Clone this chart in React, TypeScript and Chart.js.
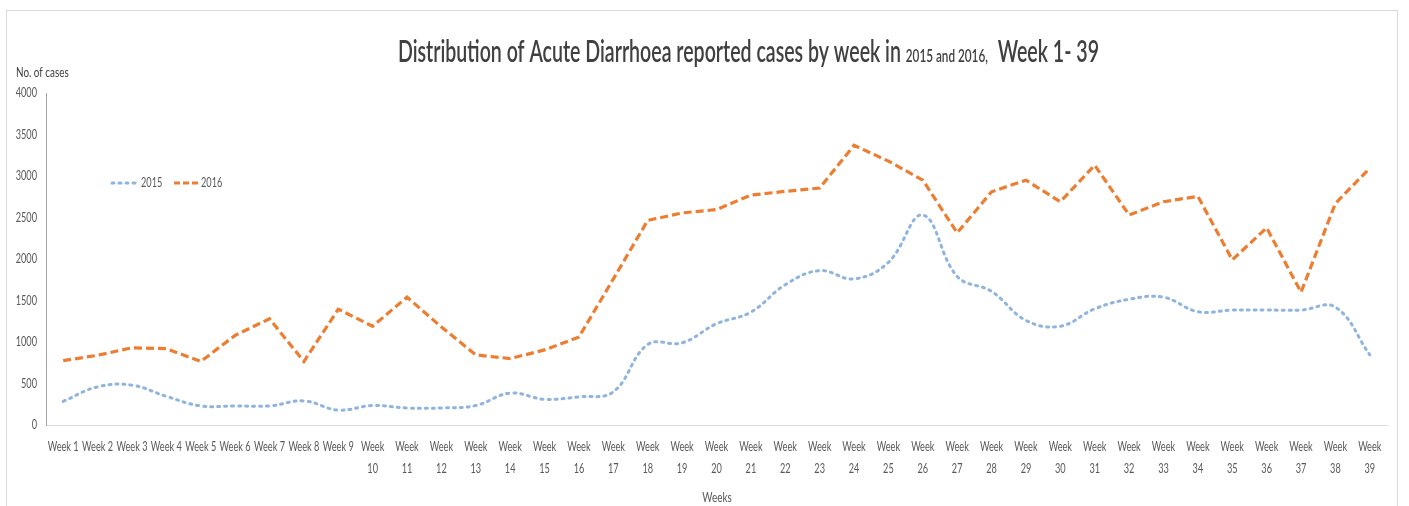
import React, { useEffect, useRef } from "react";
import { Chart, registerables } from "chart.js";

Chart.register(...registerables);

const weeks: string[] = [
  "Week 1", "Week 2", "Week 3", "Week 4", "Week 5", "Week 6", "Week 7", "Week 8", "Week 9",
  "Week 10", "Week 11", "Week 12", "Week 13", "Week 14", "Week 15", "Week 16", "Week 17",
  "Week 18", "Week 19", "Week 20", "Week 21", "Week 22", "Week 23", "Week 24", "Week 25",
  "Week 26", "Week 27", "Week 28", "Week 29", "Week 30", "Week 31", "Week 32", "Week 33",
  "Week 34", "Week 35", "Week 36", "Week 37", "Week 38", "Week 39",
];

const cases2015: number[] = [
  285, 460, 480, 345, 230, 230, 230, 290, 180, 235,
  205, 205, 235, 385, 310, 340, 400, 970, 990, 1220,
  1360, 1690, 1860, 1760, 1960, 2530, 1790, 1610, 1260, 1190,
  1400, 1515, 1540, 1365, 1385, 1385, 1385, 1420, 845,
];

const cases2016: number[] = [
  775, 840, 930, 920, 765, 1080, 1280, 765, 1395, 1190,
  1540, 1180, 845, 800, 905, 1060, 1760, 2465, 2555, 2595,
  2770, 2815, 2855, 3370, 3180, 2950, 2315, 2810, 2950, 2690,
  3130, 2530, 2690, 2755, 1990, 2375, 1600, 2670, 3095,
];

const seriesNames: string[] = ["2015", "2016"];
const yTicks: number[] = [0, 500, 1000, 1500, 2000, 2500, 3000, 3500, 4000];

const FONT = "Lato, 'Open Sans', 'Noto Sans', sans-serif";
const BLUE = "#8FB4DF";
const ORANGE = "#ED7D31";
const TEXT = "#595959";

function drawText(
  ctx: CanvasRenderingContext2D,
  s: string,
  x: number,
  y: number,
  size: number,
  sx: number,
  align: CanvasTextAlign,
  color: string,
  baseline: CanvasTextBaseline = "middle",
  weight: string = "normal"
) {
  ctx.save();
  ctx.font = `${weight} ${size}px ${FONT}`;
  ctx.fillStyle = color;
  ctx.textBaseline = baseline;
  ctx.textAlign = align;
  ctx.translate(x, y);
  ctx.scale(sx, 1);
  ctx.fillText(s, 0, 0);
  ctx.restore();
}

const decorPlugin = {
  id: "decor",
  afterDraw(chart: any) {
    const ctx = chart.ctx as CanvasRenderingContext2D;
    ctx.save();
    ctx.font = `13px ${FONT}`;
    const SX = 31 / ctx.measureText("Week 1").width;

    // Title with mixed sizes
    const segs = [
      { t: "Distribution of Acute Diarrhoea reported cases by week in ", s: 30 },
      { t: "2015 and 2016,", s: 18 },
      { t: "  Week 1- 39", s: 30 },
    ];
    const TW = "600";
    let total = 0;
    for (const sg of segs) {
      ctx.font = `${TW} ${sg.s}px ${FONT}`;
      total += ctx.measureText(sg.t).width;
    }
    const tsx = 701 / total;
    let x = 398;
    for (const sg of segs) {
      ctx.font = `${TW} ${sg.s}px ${FONT}`;
      const w = ctx.measureText(sg.t).width * tsx;
      drawText(ctx, sg.t, x, 62, sg.s, tsx, "left", "#404040", "alphabetic", TW);
      x += w;
    }

    // Y axis title
    drawText(ctx, "No. of cases", 16, 72, 14, SX, "left", "#404040");

    // X axis tick labels
    const xs = chart.scales.x;
    weeks.forEach((w, i) => {
      const px = xs.getPixelForTick(i);
      if (i < 9) {
        drawText(ctx, w, px, 447, 13, SX, "center", TEXT);
      } else {
        const parts = w.split(" ");
        drawText(ctx, parts[0], px, 447, 13, SX, "center", TEXT);
        drawText(ctx, parts[1], px, 469, 13, SX, "center", TEXT);
      }
    });

    // Y axis tick labels
    const ys = chart.scales.y;
    yTicks.forEach((v) => {
      drawText(ctx, String(v), 37, ys.getPixelForValue(v), 13, SX, "right", TEXT);
    });

    // X axis title
    drawText(ctx, "Weeks", 717, 497, 14, SX, "center", TEXT);

    // Legend
    const items = [
      { name: seriesNames[0], color: BLUE, dash: [2, 5], cap: "round", x1: 112, x2: 139, tx: 141 },
      { name: seriesNames[1], color: ORANGE, dash: [6, 3], cap: "butt", x1: 174, x2: 200, tx: 201 },
    ];
    for (const it of items) {
      ctx.beginPath();
      ctx.strokeStyle = it.color;
      ctx.lineWidth = 3;
      ctx.lineCap = it.cap as CanvasLineCap;
      ctx.setLineDash(it.dash);
      ctx.moveTo(it.x1, 183);
      ctx.lineTo(it.x2, 183);
      ctx.stroke();
      ctx.setLineDash([]);
      drawText(ctx, it.name, it.tx, 183, 13, SX, "left", TEXT);
    }
    ctx.restore();
  },
};

export default function App() {
  const ref = useRef<HTMLCanvasElement | null>(null);
  useEffect(() => {
    document.body.style.margin = "0";
    const canvas = ref.current!;
    const chart = new Chart(canvas, {
      type: "line",
      data: {
        labels: weeks,
        datasets: [
          {
            label: seriesNames[0],
            data: cases2015,
            borderColor: BLUE,
            backgroundColor: BLUE,
            borderWidth: 3,
            borderDash: [2, 5],
            borderCapStyle: "round",
            tension: 0.4,
            pointRadius: 0,
            fill: false,
          },
          {
            label: seriesNames[1],
            data: cases2016,
            borderColor: ORANGE,
            backgroundColor: ORANGE,
            borderWidth: 3.2,
            borderDash: [8, 4],
            borderCapStyle: "butt",
            tension: 0,
            pointRadius: 0,
            fill: false,
          },
        ],
      },
      options: {
        responsive: false,
        animation: false,
        layout: { padding: { left: 0, right: 22, top: 93, bottom: 0 } },
        plugins: {
          legend: { display: false },
          title: { display: false },
          tooltip: { enabled: false },
        },
        scales: {
          x: {
            type: "category",
            offset: true,
            grid: { display: false, drawTicks: false },
            border: { display: true, color: "#d9d9d9", width: 1 },
            ticks: { display: false },
            afterFit: (scale: any) => {
              scale.height = 81;
            },
          },
          y: {
            min: 0,
            max: 4000,
            afterBuildTicks: (scale: any) => {
              scale.ticks = yTicks.map((v) => ({ value: v }));
            },
            grid: { display: false, drawTicks: false },
            border: { display: true, color: "#a6a6a6", width: 1 },
            ticks: { display: false },
            afterFit: (scale: any) => {
              scale.width = 46;
            },
          },
        },
      },
      plugins: [decorPlugin],
    });
    return () => chart.destroy();
  }, []);

  return (
    <div style={{ position: "relative", width: 1409, height: 506, background: "#fff", overflow: "hidden" }}>
      <div
        style={{
          position: "absolute",
          left: 6,
          top: 10,
          width: 1392,
          height: 510,
          border: "1px solid #d9d9d9",
          boxSizing: "border-box",
        }}
      />
      <canvas ref={ref} width={1409} height={506} style={{ position: "absolute", left: 0, top: 0 }} />
    </div>
  );
}
